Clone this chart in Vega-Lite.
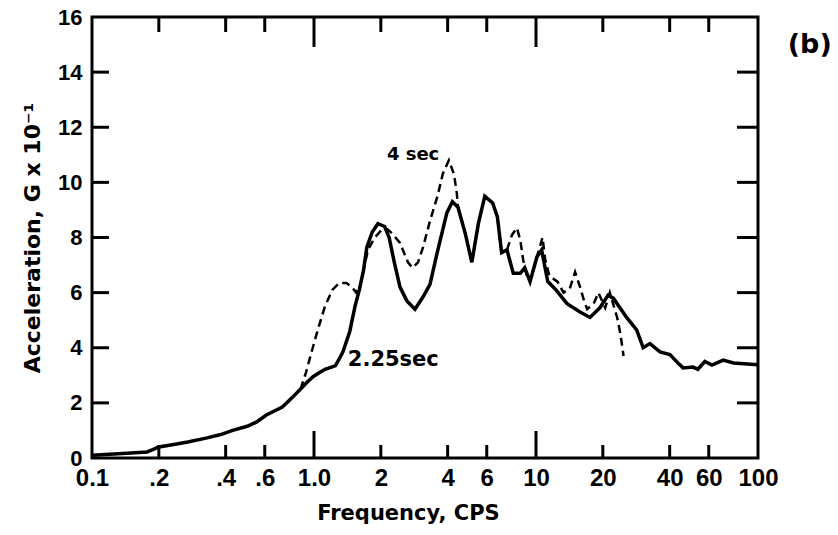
{
  "$schema": "https://vega.github.io/schema/vega-lite/v6.json",
  "width": 666,
  "height": 441,
  "autosize": {"type": "none"},
  "padding": {"left": 92, "top": 17, "right": 80, "bottom": 77},
  "background": "white",
  "config": {
    "view": {"stroke": "black", "strokeWidth": 3},
    "axis": {"domain": false, "ticks": false, "grid": false, "labelColor": "black", "titleColor": "black"}
  },
  "datasets": {
    "xticks": [
      {"f": 0.2, "k": "minor"}, {"f": 0.4, "k": "minor"}, {"f": 0.6, "k": "minor"}, {"f": 1, "k": "major"},
      {"f": 2, "k": "minor"}, {"f": 4, "k": "minor"}, {"f": 6, "k": "minor"}, {"f": 10, "k": "major"},
      {"f": 20, "k": "minor"}, {"f": 40, "k": "minor"}, {"f": 60, "k": "minor"}
    ],
    "yticks": [{"a": 2}, {"a": 4}, {"a": 6}, {"a": 8}, {"a": 10}, {"a": 12}, {"a": 14}]
  },
  "data": {
    "values": [
      {"series": "2.25 sec", "freq": 0.1, "acc": 0.1},
      {"series": "2.25 sec", "freq": 0.12, "acc": 0.14},
      {"series": "2.25 sec", "freq": 0.15, "acc": 0.18},
      {"series": "2.25 sec", "freq": 0.177, "acc": 0.22},
      {"series": "2.25 sec", "freq": 0.19, "acc": 0.32},
      {"series": "2.25 sec", "freq": 0.2, "acc": 0.4},
      {"series": "2.25 sec", "freq": 0.23, "acc": 0.48},
      {"series": "2.25 sec", "freq": 0.27, "acc": 0.58},
      {"series": "2.25 sec", "freq": 0.33, "acc": 0.73},
      {"series": "2.25 sec", "freq": 0.38, "acc": 0.85},
      {"series": "2.25 sec", "freq": 0.43, "acc": 1.0},
      {"series": "2.25 sec", "freq": 0.5, "acc": 1.15},
      {"series": "2.25 sec", "freq": 0.55, "acc": 1.3},
      {"series": "2.25 sec", "freq": 0.61, "acc": 1.56},
      {"series": "2.25 sec", "freq": 0.72, "acc": 1.85},
      {"series": "2.25 sec", "freq": 0.8, "acc": 2.2},
      {"series": "2.25 sec", "freq": 0.87, "acc": 2.5},
      {"series": "2.25 sec", "freq": 0.93, "acc": 2.75},
      {"series": "2.25 sec", "freq": 0.99, "acc": 2.95},
      {"series": "2.25 sec", "freq": 1.06, "acc": 3.1},
      {"series": "2.25 sec", "freq": 1.12, "acc": 3.22},
      {"series": "2.25 sec", "freq": 1.2, "acc": 3.3},
      {"series": "2.25 sec", "freq": 1.25, "acc": 3.35},
      {"series": "2.25 sec", "freq": 1.3, "acc": 3.6},
      {"series": "2.25 sec", "freq": 1.35, "acc": 3.85},
      {"series": "2.25 sec", "freq": 1.45, "acc": 4.6},
      {"series": "2.25 sec", "freq": 1.53, "acc": 5.5},
      {"series": "2.25 sec", "freq": 1.6, "acc": 6.1},
      {"series": "2.25 sec", "freq": 1.67, "acc": 6.8},
      {"series": "2.25 sec", "freq": 1.73, "acc": 7.65},
      {"series": "2.25 sec", "freq": 1.83, "acc": 8.2},
      {"series": "2.25 sec", "freq": 1.94, "acc": 8.5},
      {"series": "2.25 sec", "freq": 2.08, "acc": 8.4},
      {"series": "2.25 sec", "freq": 2.18, "acc": 8.0},
      {"series": "2.25 sec", "freq": 2.3, "acc": 7.1},
      {"series": "2.25 sec", "freq": 2.44, "acc": 6.2},
      {"series": "2.25 sec", "freq": 2.62, "acc": 5.7},
      {"series": "2.25 sec", "freq": 2.85, "acc": 5.4},
      {"series": "2.25 sec", "freq": 3.1, "acc": 5.85},
      {"series": "2.25 sec", "freq": 3.33, "acc": 6.3},
      {"series": "2.25 sec", "freq": 3.6, "acc": 7.5},
      {"series": "2.25 sec", "freq": 3.97, "acc": 8.9},
      {"series": "2.25 sec", "freq": 4.2, "acc": 9.3},
      {"series": "2.25 sec", "freq": 4.45, "acc": 9.1},
      {"series": "2.25 sec", "freq": 4.8, "acc": 8.15},
      {"series": "2.25 sec", "freq": 5.14, "acc": 7.1},
      {"series": "2.25 sec", "freq": 5.5, "acc": 8.5},
      {"series": "2.25 sec", "freq": 5.88, "acc": 9.5},
      {"series": "2.25 sec", "freq": 6.38, "acc": 9.25},
      {"series": "2.25 sec", "freq": 6.7, "acc": 8.75},
      {"series": "2.25 sec", "freq": 7.0, "acc": 7.45},
      {"series": "2.25 sec", "freq": 7.4, "acc": 7.55},
      {"series": "2.25 sec", "freq": 7.9, "acc": 6.7},
      {"series": "2.25 sec", "freq": 8.5, "acc": 6.7},
      {"series": "2.25 sec", "freq": 8.9, "acc": 6.9},
      {"series": "2.25 sec", "freq": 9.4, "acc": 6.4},
      {"series": "2.25 sec", "freq": 10.1, "acc": 7.3},
      {"series": "2.25 sec", "freq": 10.6, "acc": 7.55},
      {"series": "2.25 sec", "freq": 11.3, "acc": 6.4},
      {"series": "2.25 sec", "freq": 12.3, "acc": 6.1},
      {"series": "2.25 sec", "freq": 13.8, "acc": 5.6},
      {"series": "2.25 sec", "freq": 15.8, "acc": 5.3},
      {"series": "2.25 sec", "freq": 17.5, "acc": 5.1},
      {"series": "2.25 sec", "freq": 19.4, "acc": 5.45},
      {"series": "2.25 sec", "freq": 21.1, "acc": 5.9},
      {"series": "2.25 sec", "freq": 22.3, "acc": 5.8},
      {"series": "2.25 sec", "freq": 25.6, "acc": 5.1},
      {"series": "2.25 sec", "freq": 28.4, "acc": 4.65},
      {"series": "2.25 sec", "freq": 30.4, "acc": 4.0},
      {"series": "2.25 sec", "freq": 32.6, "acc": 4.15},
      {"series": "2.25 sec", "freq": 36.2, "acc": 3.85},
      {"series": "2.25 sec", "freq": 40.1, "acc": 3.75},
      {"series": "2.25 sec", "freq": 43.6, "acc": 3.45},
      {"series": "2.25 sec", "freq": 46, "acc": 3.27},
      {"series": "2.25 sec", "freq": 51, "acc": 3.3},
      {"series": "2.25 sec", "freq": 53.6, "acc": 3.22},
      {"series": "2.25 sec", "freq": 57.6, "acc": 3.5},
      {"series": "2.25 sec", "freq": 62, "acc": 3.37},
      {"series": "2.25 sec", "freq": 69.7, "acc": 3.55},
      {"series": "2.25 sec", "freq": 77.6, "acc": 3.45},
      {"series": "2.25 sec", "freq": 100, "acc": 3.38},
      {"series": "4 sec", "freq": 0.87, "acc": 2.5},
      {"series": "4 sec", "freq": 0.92, "acc": 3.1},
      {"series": "4 sec", "freq": 0.96, "acc": 3.65},
      {"series": "4 sec", "freq": 1.04, "acc": 4.65},
      {"series": "4 sec", "freq": 1.12, "acc": 5.5},
      {"series": "4 sec", "freq": 1.21, "acc": 6.1},
      {"series": "4 sec", "freq": 1.3, "acc": 6.35},
      {"series": "4 sec", "freq": 1.4, "acc": 6.35},
      {"series": "4 sec", "freq": 1.48, "acc": 6.2},
      {"series": "4 sec", "freq": 1.55, "acc": 6.0},
      {"series": "4 sec", "freq": 1.62, "acc": 6.3},
      {"series": "4 sec", "freq": 1.68, "acc": 6.9},
      {"series": "4 sec", "freq": 1.75, "acc": 7.55},
      {"series": "4 sec", "freq": 1.88, "acc": 8.0},
      {"series": "4 sec", "freq": 2.03, "acc": 8.3},
      {"series": "4 sec", "freq": 2.14, "acc": 8.3},
      {"series": "4 sec", "freq": 2.25, "acc": 8.15},
      {"series": "4 sec", "freq": 2.44, "acc": 7.8},
      {"series": "4 sec", "freq": 2.65, "acc": 7.1},
      {"series": "4 sec", "freq": 2.78, "acc": 6.9},
      {"series": "4 sec", "freq": 2.94, "acc": 7.1},
      {"series": "4 sec", "freq": 3.1, "acc": 7.65},
      {"series": "4 sec", "freq": 3.33, "acc": 8.6},
      {"series": "4 sec", "freq": 3.6, "acc": 9.5},
      {"series": "4 sec", "freq": 3.8, "acc": 10.3},
      {"series": "4 sec", "freq": 4.05, "acc": 10.8},
      {"series": "4 sec", "freq": 4.27, "acc": 10.3},
      {"series": "4 sec", "freq": 4.4, "acc": 9.6},
      {"series": "4 sec", "freq": 4.45, "acc": 9.1},
      {"series": "4 sec", "freq": 4.8, "acc": 8.15},
      {"series": "4 sec", "freq": 5.14, "acc": 7.1},
      {"series": "4 sec", "freq": 5.5, "acc": 8.5},
      {"series": "4 sec", "freq": 5.88, "acc": 9.5},
      {"series": "4 sec", "freq": 6.38, "acc": 9.25},
      {"series": "4 sec", "freq": 6.7, "acc": 8.75},
      {"series": "4 sec", "freq": 7.0, "acc": 7.45},
      {"series": "4 sec", "freq": 7.4, "acc": 7.55},
      {"series": "4 sec", "freq": 7.8, "acc": 8.1},
      {"series": "4 sec", "freq": 8.2, "acc": 8.35},
      {"series": "4 sec", "freq": 8.5, "acc": 7.9},
      {"series": "4 sec", "freq": 8.75, "acc": 7.2},
      {"series": "4 sec", "freq": 9.1, "acc": 6.6},
      {"series": "4 sec", "freq": 9.4, "acc": 6.4},
      {"series": "4 sec", "freq": 10.1, "acc": 7.3},
      {"series": "4 sec", "freq": 10.7, "acc": 8.0},
      {"series": "4 sec", "freq": 11.0, "acc": 7.2},
      {"series": "4 sec", "freq": 11.5, "acc": 6.6},
      {"series": "4 sec", "freq": 12.5, "acc": 6.4},
      {"series": "4 sec", "freq": 13.3, "acc": 6.0},
      {"series": "4 sec", "freq": 14.2, "acc": 6.15},
      {"series": "4 sec", "freq": 15.0, "acc": 6.75},
      {"series": "4 sec", "freq": 15.8, "acc": 6.2},
      {"series": "4 sec", "freq": 16.4, "acc": 5.75},
      {"series": "4 sec", "freq": 17.0, "acc": 5.4},
      {"series": "4 sec", "freq": 18.2, "acc": 5.6},
      {"series": "4 sec", "freq": 19.1, "acc": 6.0},
      {"series": "4 sec", "freq": 20.5, "acc": 5.45},
      {"series": "4 sec", "freq": 21.5, "acc": 6.0},
      {"series": "4 sec", "freq": 23.2, "acc": 5.1},
      {"series": "4 sec", "freq": 24.0, "acc": 4.5},
      {"series": "4 sec", "freq": 24.8, "acc": 3.7}
    ]
  },
  "layer": [
    {
      "transform": [{"filter": "datum.series === '4 sec'"}],
      "mark": {"type": "line", "color": "black", "strokeWidth": 2.5, "strokeDash": [8, 5]},
      "encoding": {
        "x": {
          "field": "freq", "type": "quantitative",
          "scale": {"type": "log", "domain": [0.1, 100]},
          "axis": {
            "orient": "bottom",
            "values": [0.1, 0.2, 0.4, 0.6, 1, 2, 4, 6, 10, 20, 40, 60, 100],
            "labelExpr": "datum.value == 0.1 ? '0.1' : datum.value < 1 ? replace(format(datum.value, '.1f'), '0.', '.') : datum.value == 1 ? '1.0' : format(datum.value, 'd')",
            "labelFont": "Liberation Sans", "labelFontWeight": "bold", "labelFontSize": 24,
            "labelPadding": 8, "labelFlush": false, "labelOverlap": false,
            "title": "Frequency, CPS", "titleFont": "DejaVu Sans", "titleFontWeight": "bold", "titleFontSize": 21,
            "titlePadding": 12, "titleX": 316
          }
        },
        "y": {
          "field": "acc", "type": "quantitative",
          "scale": {"domain": [0, 16]},
          "axis": {
            "orient": "left",
            "values": [0, 2, 4, 6, 8, 10, 12, 14, 16],
            "labelFont": "Liberation Sans", "labelFontWeight": "bold", "labelFontSize": 22,
            "labelPadding": 10, "labelOverlap": false, "labelFlush": false,
            "title": "Acceleration,     G x 10⁻¹", "titleFont": "DejaVu Sans", "titleFontWeight": "bold", "titleFontSize": 22,
            "titlePadding": 13
          }
        }
      }
    },
    {
      "transform": [{"filter": "datum.series === '2.25 sec'"}],
      "mark": {"type": "line", "color": "black", "strokeWidth": 3.5},
      "encoding": {
        "x": {"field": "freq", "type": "quantitative"},
        "y": {"field": "acc", "type": "quantitative"}
      }
    },
    {
      "data": {"name": "xticks"},
      "transform": [{"filter": "datum.k === 'minor'"}],
      "mark": {"type": "tick", "orient": "vertical", "color": "black", "opacity": 1, "size": 13, "thickness": 3, "yOffset": -6.5},
      "encoding": {
        "x": {"field": "f", "type": "quantitative"},
        "y": {"datum": 0, "type": "quantitative"}
      }
    },
    {
      "data": {"name": "xticks"},
      "transform": [{"filter": "datum.k === 'major'"}],
      "mark": {"type": "tick", "orient": "vertical", "color": "black", "opacity": 1, "size": 27, "thickness": 3, "yOffset": -13.5},
      "encoding": {
        "x": {"field": "f", "type": "quantitative"},
        "y": {"datum": 0, "type": "quantitative"}
      }
    },
    {
      "data": {"name": "xticks"},
      "transform": [{"filter": "datum.k === 'minor'"}],
      "mark": {"type": "tick", "orient": "vertical", "color": "black", "opacity": 1, "size": 15, "thickness": 3, "yOffset": 7.5},
      "encoding": {
        "x": {"field": "f", "type": "quantitative"},
        "y": {"datum": 16, "type": "quantitative"}
      }
    },
    {
      "data": {"name": "xticks"},
      "transform": [{"filter": "datum.k === 'major'"}],
      "mark": {"type": "tick", "orient": "vertical", "color": "black", "opacity": 1, "size": 30, "thickness": 3, "yOffset": 15},
      "encoding": {
        "x": {"field": "f", "type": "quantitative"},
        "y": {"datum": 16, "type": "quantitative"}
      }
    },
    {
      "data": {"name": "yticks"},
      "mark": {"type": "tick", "orient": "horizontal", "color": "black", "opacity": 1, "size": 17, "thickness": 3, "xOffset": 8.5},
      "encoding": {
        "x": {"datum": 0.1, "type": "quantitative"},
        "y": {"field": "a", "type": "quantitative"}
      }
    },
    {
      "data": {"name": "yticks"},
      "mark": {"type": "tick", "orient": "horizontal", "color": "black", "opacity": 1, "size": 21, "thickness": 3, "xOffset": -10.5},
      "encoding": {
        "x": {"datum": 100, "type": "quantitative"},
        "y": {"field": "a", "type": "quantitative"}
      }
    },
    {
      "data": {"values": [{"freq": 2.13, "acc": 11.0, "label": "4 sec"}]},
      "mark": {"type": "text", "align": "left", "baseline": "middle", "font": "DejaVu Sans", "fontWeight": "bold", "fontSize": 18, "color": "black"},
      "encoding": {
        "x": {"field": "freq", "type": "quantitative"},
        "y": {"field": "acc", "type": "quantitative"},
        "text": {"field": "label"}
      }
    },
    {
      "data": {"values": [{"freq": 1.42, "acc": 3.55, "label": "2.25sec"}]},
      "mark": {"type": "text", "align": "left", "baseline": "middle", "font": "DejaVu Sans", "fontWeight": "bold", "fontSize": 21, "color": "black"},
      "encoding": {
        "x": {"field": "freq", "type": "quantitative"},
        "y": {"field": "acc", "type": "quantitative"},
        "text": {"field": "label"}
      }
    },
    {
      "data": {"values": [{"freq": 171, "acc": 15.0, "label": "(b)"}]},
      "mark": {"type": "text", "align": "center", "baseline": "middle", "font": "DejaVu Sans", "fontWeight": "bold", "fontSize": 27, "color": "black", "clip": false},
      "encoding": {
        "x": {"field": "freq", "type": "quantitative"},
        "y": {"field": "acc", "type": "quantitative"},
        "text": {"field": "label"}
      }
    }
  ]
}
